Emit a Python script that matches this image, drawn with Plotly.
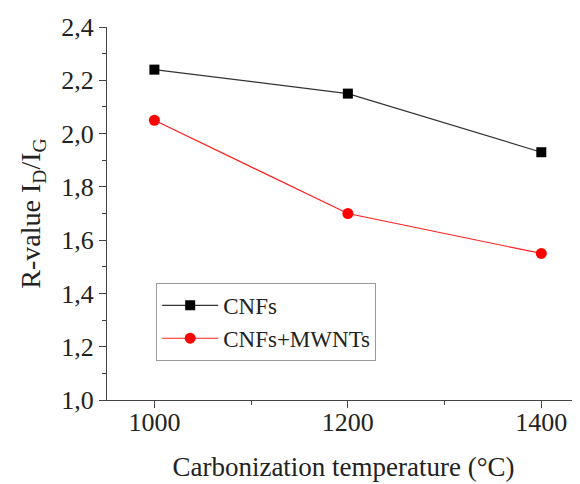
import plotly.graph_objects as go

temps = [1000, 1200, 1400]
cnfs = [2.24, 2.15, 1.93]
cnfs_mwnts = [2.05, 1.70, 1.55]
y_ticks = [1.0, 1.2, 1.4, 1.6, 1.8, 2.0, 2.2, 2.4]
x_ticks = [1000, 1200, 1400]

font = "Liberation Serif"

fig = go.Figure()
fig.add_trace(go.Scatter(x=temps, y=cnfs, mode="lines+markers", name="CNFs",
                         line=dict(color="#333333", width=1.2),
                         marker=dict(symbol="square", size=10, color="black")))
fig.add_trace(go.Scatter(x=temps, y=cnfs_mwnts, mode="lines+markers", name="CNFs+MWNTs",
                         line=dict(color="#ff2020", width=1.2),
                         marker=dict(symbol="circle", size=11, color="#ff0000")))

# page body has an 8px default margin, so the figure is sized/offset to compensate
fig.update_layout(
    width=572, height=476,
    margin=dict(l=99, r=0, t=19, b=84),
    paper_bgcolor="white", plot_bgcolor="white",
    separators=",.",
    font=dict(family=font, size=26, color="#222222"),
    showlegend=True,
    legend=dict(x=0.104, y=0.314, xanchor="left", yanchor="top",
                bordercolor="#999999", borderwidth=1, bgcolor="white",
                font=dict(family=font, size=23, color="#222222"),
                tracegroupgap=0, itemwidth=56),
)
fig.update_xaxes(range=[951, 1440], tickvals=x_ticks, ticks="outside", ticklen=7,
                 tickcolor="#444444", showline=True, linecolor="#444444", linewidth=1,
                 showgrid=False, zeroline=False, automargin=False,
                 ticklabelstandoff=-8,
                 minor=dict(dtick=100, ticks="outside", ticklen=4, tickcolor="#444444"),
                 title=dict(text="Carbonization temperature (°C)", font=dict(size=27), standoff=20),
                 tickfont=dict(size=26))
fig.update_yaxes(range=[1.0, 2.4], tickvals=y_ticks, tickformat=".1f", ticks="outside", ticklen=7,
                 tickcolor="#444444", showline=True, linecolor="#444444", linewidth=1,
                 showgrid=False, zeroline=False, automargin=False,
                 minor=dict(dtick=0.1, ticks="outside", ticklen=4, tickcolor="#444444"),
                 title=dict(text="R-value I<sub>D</sub>/I<sub>G</sub>", font=dict(size=28), standoff=12),
                 tickfont=dict(size=26))

fig.write_html("out.html")
